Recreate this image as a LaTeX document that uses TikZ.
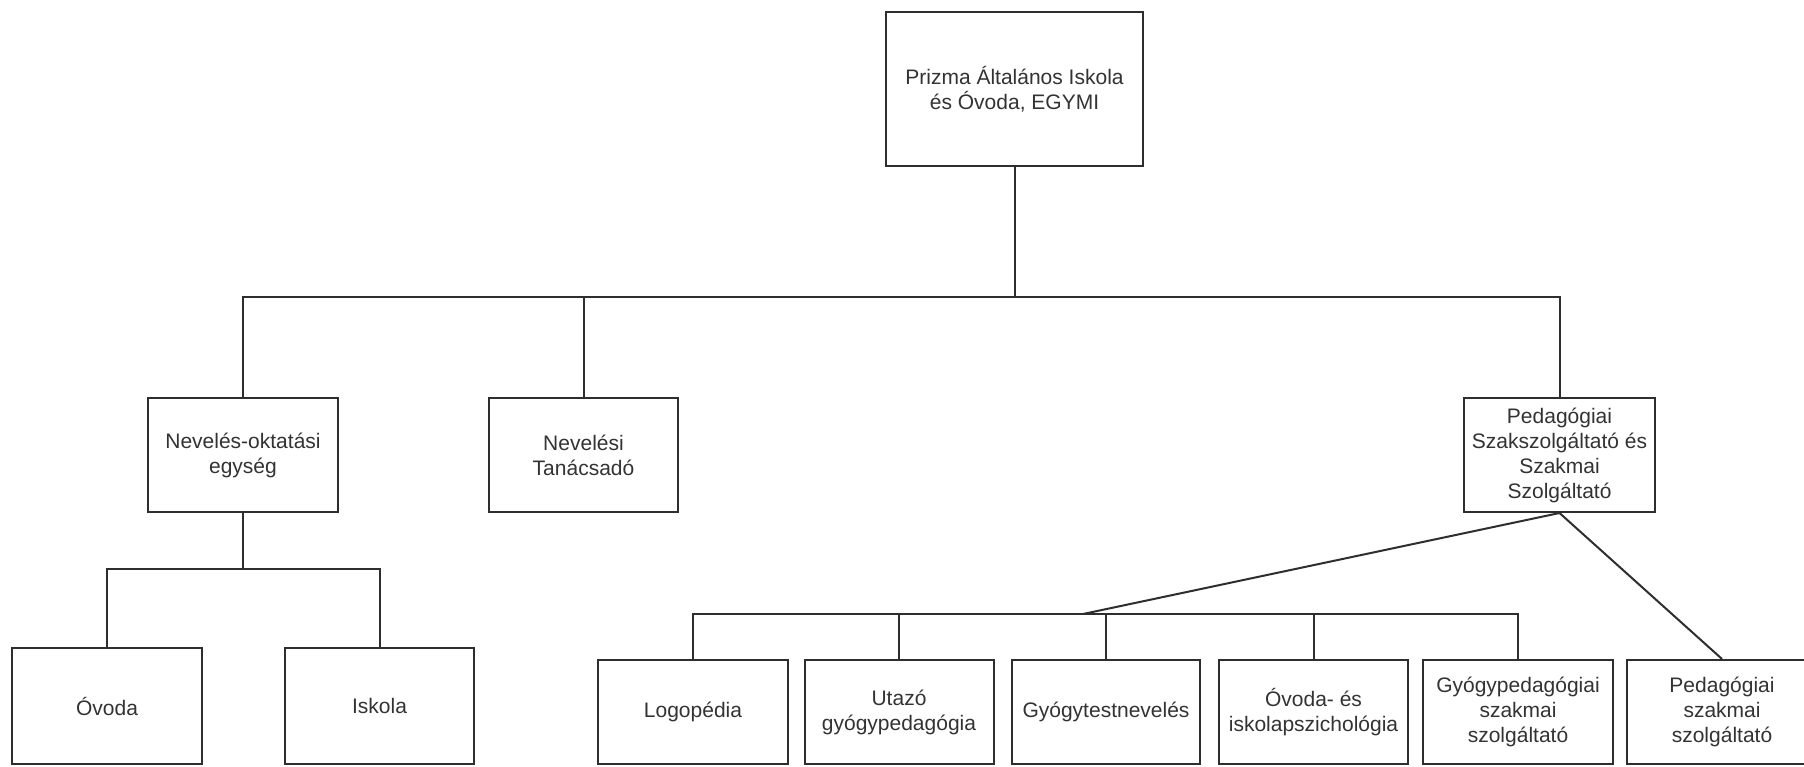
\documentclass[tikz,border=0pt]{standalone}
\usepackage{fontspec}
\setmainfont{Liberation Sans}
\definecolor{linec}{HTML}{2E2E2E}
\definecolor{textc}{HTML}{333333}
\begin{document}
\begin{tikzpicture}[x=1pt,y=-1pt,
  orgbox/.style={draw=linec, line width=2pt, fill=white, text=textc, align=center,
    font=\fontsize{21}{25}\selectfont, inner sep=0pt},
  conn/.style={draw=linec, line width=2pt}]
\fill[white] (0,0) rectangle (1804,767);
\useasboundingbox (0,0) rectangle (1804,767);

\node[orgbox, minimum width=257pt, minimum height=154pt] (top) at (1014.5,89) {Prizma Általános Iskola\\és Óvoda, EGYMI};

\node[orgbox, minimum width=190pt, minimum height=114pt] (ne) at (243,455) {Nevelés-oktatási\\egység};
\node[orgbox, minimum width=189pt, minimum height=114pt] (nt) at (583.5,455) {Nevelési\\Tanácsadó};
\node[orgbox, minimum width=191pt, minimum height=114pt] (ped) at (1559.5,455) {Pedagógiai\\Szakszolgáltató és\\Szakmai\\Szolgáltató};

\node[orgbox, minimum width=190pt, minimum height=116pt] (ovoda) at (107,706) {Óvoda};
\node[orgbox, minimum width=189pt, minimum height=116pt] (iskola) at (379.5,706) {Iskola};

\node[orgbox, minimum width=190pt, minimum height=104pt] (logo) at (693,712) {Logopédia};
\node[orgbox, minimum width=189pt, minimum height=104pt] (utazo) at (899,712) {Utazó\\gyógypedagógia};
\node[orgbox, minimum width=188pt, minimum height=104pt] (gyt) at (1106,712) {Gyógytestnevelés};
\node[orgbox, minimum width=189pt, minimum height=104pt] (ovi) at (1313.5,712) {Óvoda- és\\iskolapszichológia};
\node[orgbox, minimum width=190pt, minimum height=104pt] (gyp) at (1518,712) {Gyógypedagógiai\\szakmai\\szolgáltató};
\node[orgbox, minimum width=190pt, minimum height=104pt] (psz) at (1722,712) {Pedagógiai\\szakmai\\szolgáltató};

\coordinate (busA) at (0,297);
\coordinate (busB) at (0,569);
\coordinate (busC) at (0,614);
\coordinate (j) at (1083,614);

% top level bus
\draw[conn] (top.south) -- (top.south |- busA);
\draw[conn] (ne.north) -- (ne.north |- busA) -- (ped.north |- busA) -- (ped.north);
\draw[conn] (nt.north) -- (nt.north |- busA);

% Nevelés-oktatási egység subtree
\draw[conn] (ne.south) -- (ne.south |- busB);
\draw[conn] (ovoda.north) -- (ovoda.north |- busB) -- (iskola.north |- busB) -- (iskola.north);

% Pedagógiai subtree
\draw[conn] (logo.north) -- (logo.north |- busC) -- (gyp.north |- busC) -- (gyp.north);
\draw[conn] (utazo.north) -- (utazo.north |- busC);
\draw[conn] (gyt.north) -- (gyt.north |- busC);
\draw[conn] (ovi.north) -- (ovi.north |- busC);
\draw[conn] (ped.south) -- (j);
\draw[conn] (ped.south) -- (psz.north);
\end{tikzpicture}
\end{document}
